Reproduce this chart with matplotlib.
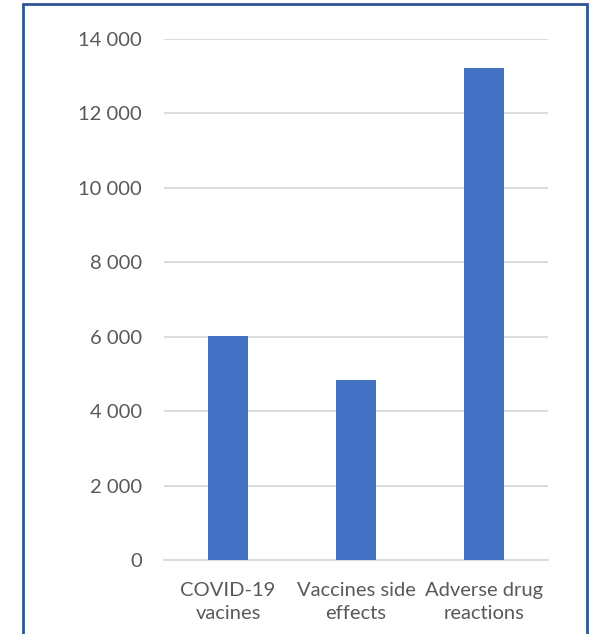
import numpy as np
import matplotlib.pyplot as plt
from matplotlib.patches import Rectangle

# data
categories = ["COVID-19\nvacines", "Vaccines side\neffects", "Adverse drug\nreactions"]
counts = [6020, 4840, 13220]
yticks = [0, 2000, 4000, 6000, 8000, 10000, 12000, 14000]
ytick_labels = ["0", "2 000", "4 000", "6 000", "8 000", "10 000", "12 000", "14 000"]

plt.rcParams['font.family'] = ['Lato', 'DejaVu Sans']

fig = plt.figure(figsize=(5.9, 6.34), dpi=100)
ax = fig.add_axes([164/590, 1 - 560/634, 384/590, 521/634])

x = np.arange(len(categories))
ax.bar(x, counts, width=0.32, color="#4472C4", zorder=3)

ax.set_xlim(-0.5, len(categories) - 0.5)
ax.set_ylim(0, 14000)
ax.set_yticks(yticks)
ax.set_yticklabels(ytick_labels)
ax.set_xticks(x)
ax.set_xticklabels(categories, linespacing=1.38)

ax.grid(axis="y", color="#D9D9D9", linewidth=1.3, zorder=0)
for side in ["top", "right", "left"]:
    ax.spines[side].set_visible(False)
ax.spines["bottom"].set_color("#D9D9D9")
ax.spines["bottom"].set_linewidth(1.3)
ax.tick_params(axis="both", length=0, labelsize=14.5, colors="#595959")
ax.tick_params(axis="y", pad=16)
ax.tick_params(axis="x", pad=16)

# outer blue frame of the chart box
frame = Rectangle((23/590, -0.05), (587-23)/590, 1.05 - 4/634, transform=fig.transFigure,
                  fill=False, edgecolor="#2F5597", linewidth=2, clip_on=False)
fig.patches.append(frame)

fig.savefig("out.png", dpi=100)
